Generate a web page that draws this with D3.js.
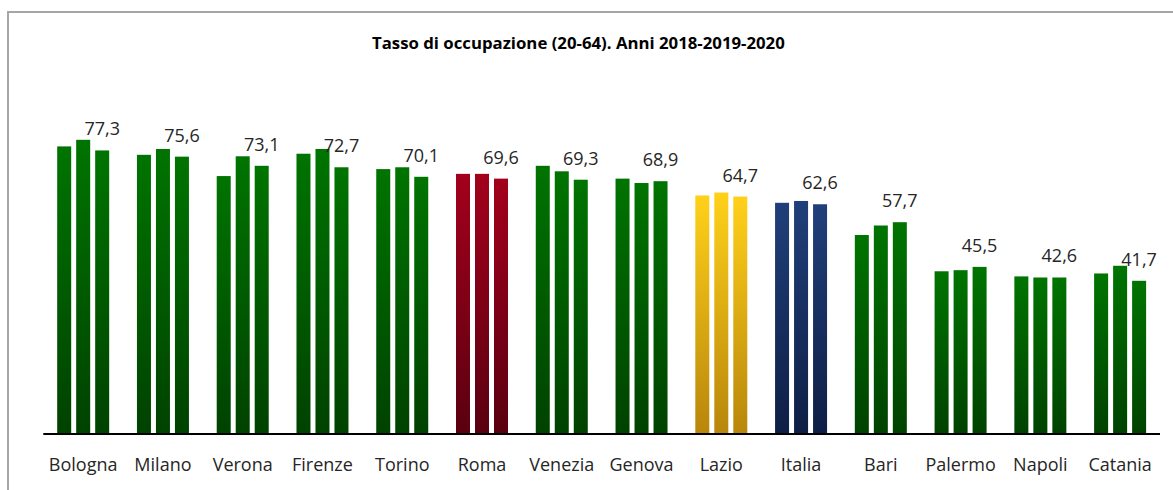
<!DOCTYPE html>
<html>
<head>
<meta charset="utf-8">
<script src="https://cdn.jsdelivr.net/npm/d3@7"></script>
<style>
  html, body { margin: 0; padding: 0; background: #fff; }
  svg { display: block; }
</style>
</head>
<body>
<svg id="chart" width="1173" height="490"></svg>
<script>
const categories = ["Bologna", "Milano", "Verona", "Firenze", "Torino", "Roma", "Venezia", "Genova", "Lazio", "Italia", "Bari", "Palermo", "Napoli", "Catania"];
const years = ["2018", "2019", "2020"];
const values2018 = [78.4, 76.1, 70.3, 76.4, 72.2, 70.9, 73.1, 69.6, 65.0, 63.0, 54.2, 44.3, 42.9, 43.7];
const values2019 = [80.2, 77.7, 75.7, 77.7, 72.7, 70.9, 71.6, 68.4, 65.8, 63.5, 56.8, 44.6, 42.6, 45.8];
const values2020 = [77.3, 75.6, 73.1, 72.7, 70.1, 69.6, 69.3, 68.9, 64.7, 62.6, 57.7, 45.5, 42.6, 41.7];
const colorGroup = ["green", "green", "green", "green", "green", "red", "green", "green", "gold", "navy", "green", "green", "green", "green"];
const titleText = "Tasso di occupazione (20-64). Anni 2018-2019-2020";

const gradients = {
  green: ["#007400", "#004200"],
  red:   ["#a3001c", "#5a0010"],
  gold:  ["#ffd11a", "#b8860b"],
  navy:  ["#203f7a", "#0e1f45"]
};

const svg = d3.select("#chart");
const W = 1173, H = 490;

// frame
svg.append("rect").attr("x", 8).attr("y", 12).attr("width", W + 20).attr("height", H + 20)
  .attr("fill", "#fff").attr("stroke", "#a6a6a6").attr("stroke-width", 2);

const defs = svg.append("defs");
Object.entries(gradients).forEach(([k, c]) => {
  const g = defs.append("linearGradient").attr("id", "grad-" + k)
    .attr("x1", 0).attr("y1", 0).attr("x2", 0).attr("y2", 1);
  g.append("stop").attr("offset", "0%").attr("stop-color", c[0]);
  g.append("stop").attr("offset", "100%").attr("stop-color", c[1]);
});

const baseY = 433.5;
const y = d3.scaleLinear().domain([0, 100]).range([baseY, baseY - 366.2]);
const x0 = d3.scaleBand().domain(categories).range([43.3, 1160]).padding(0);
const groupW = 52;
const off = (x0.bandwidth() - groupW) / 2;
const x1 = d3.scaleBand().domain(years).range([off, off + groupW]).paddingInner(0.263).paddingOuter(0);

const rows = categories.map((c, i) => ({
  cat: c, color: colorGroup[i],
  vals: [values2018[i], values2019[i], values2020[i]]
}));

const groups = svg.append("g").selectAll("g").data(rows).join("g")
  .attr("transform", d => `translate(${x0(d.cat)},0)`);

groups.selectAll("rect").data(d => d.vals.map((v, j) => ({ v, year: years[j], color: d.color })))
  .join("rect")
  .attr("x", d => x1(d.year))
  .attr("width", x1.bandwidth())
  .attr("y", d => y(d.v))
  .attr("height", d => y(0) - y(d.v))
  .attr("fill", d => `url(#grad-${d.color})`);

// value labels (2020)
groups.append("text")
  .attr("x", x1("2020") + x1.bandwidth() / 2)
  .attr("y", d => y(d.vals[2]) - 15)
  .attr("text-anchor", "middle")
  .attr("font-family", "'Open Sans', sans-serif")
  .attr("font-size", 18)
  .attr("fill", "#262626")
  .text(d => d.vals[2].toFixed(1).replace(".", ","));

// axis
const axis = svg.append("g").attr("transform", `translate(0,${baseY + 0.5})`)
  .call(d3.axisBottom(x0).tickSize(0).tickPadding(24));
axis.select(".domain").attr("stroke", "#000").attr("stroke-width", 2)
  .attr("d", `M43.3,0H1160`);
axis.selectAll("text")
  .attr("font-family", "'Open Sans', sans-serif")
  .attr("font-size", 18)
  .attr("fill", "#262626");

// title
const title = svg.append("text")
  .attr("x", 578.4).attr("y", 49)
  .attr("text-anchor", "middle")
  .attr("font-family", "'Open Sans', sans-serif")
  .attr("font-weight", "bold")
  .attr("font-size", 14)
  .attr("fill", "#000")
  .text(titleText);
const tw = title.node().getComputedTextLength();
title.attr("font-size", 14 * 413 / tw);
</script>
</body>
</html>
